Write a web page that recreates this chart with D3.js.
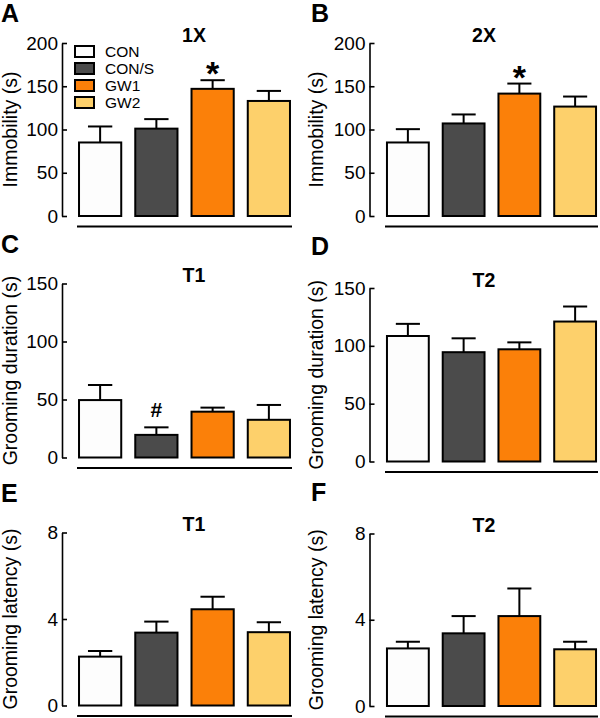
<!DOCTYPE html>
<html>
<head>
<meta charset="utf-8">
<script src="https://cdn.jsdelivr.net/npm/d3@7"></script>
<style>
  body { margin: 0; background: #fff; }
  svg text { font-family: "Liberation Sans", Arial, Helvetica, sans-serif; fill: #000; }
</style>
</head>
<body>
<div id="vis"></div>
<script>
// groups and colours
const groups = ["CON", "CON/S", "GW1", "GW2"];
const groupColors = ["#fdfdfd", "#4b4b4b", "#fb8009", "#fdd06b"];

// A: immobility 1X
const immob1X = [85, 101, 147, 133];
const immob1XSem = [18.5, 11, 10, 11.6];
// B: immobility 2X
const immob2X = [85, 107, 141.5, 126.5];
const immob2XSem = [15.4, 10.4, 11.6, 11.6];
// C: grooming duration T1
const groomDurT1 = [49.5, 19.5, 39.5, 32.5];
const groomDurT1Sem = [13, 6.5, 3.5, 12.8];
// D: grooming duration T2
const groomDurT2 = [108.5, 94.5, 97, 121];
const groomDurT2Sem = [10.5, 12, 6, 13];
// E: grooming latency T1
const groomLatT1 = [2.26, 3.37, 4.45, 3.39];
const groomLatT1Sem = [0.26, 0.51, 0.58, 0.46];
// F: grooming latency T2
const groomLatT2 = [2.67, 3.37, 4.17, 2.63];
const groomLatT2Sem = [0.31, 0.8, 1.28, 0.35];

const immobTicks = [0, 50, 100, 150, 200];
const durTicks = [0, 50, 100, 150];
const latTicks = [0, 4, 8];

const panels = [
  {letter: "A", title: "1X", ylab: "Immobility (s)", v: immob1X, e: immob1XSem, ticks: immobTicks, col: 0, top: 43, bottom: 216, letterY: 21.5, mark: {i: 2, t: "*"}, legend: true},
  {letter: "B", title: "2X", ylab: "Immobility (s)", v: immob2X, e: immob2XSem, ticks: immobTicks, col: 1, top: 43, bottom: 216, letterY: 21.5, mark: {i: 2, t: "*"}},
  {letter: "C", title: "T1", ylab: "Grooming duration (s)", v: groomDurT1, e: groomDurT1Sem, ticks: durTicks, col: 0, top: 283.5, bottom: 457.5, letterY: 253, mark: {i: 1, t: "#"}},
  {letter: "D", title: "T2", ylab: "Grooming duration (s)", v: groomDurT2, e: groomDurT2Sem, ticks: durTicks, col: 1, top: 288, bottom: 461.5, letterY: 255},
  {letter: "E", title: "T1", ylab: "Grooming latency (s)", v: groomLatT1, e: groomLatT1Sem, ticks: latTicks, col: 0, top: 532.5, bottom: 705.5, letterY: 501.5},
  {letter: "F", title: "T2", ylab: "Grooming latency (s)", v: groomLatT2, e: groomLatT2Sem, ticks: latTicks, col: 1, top: 533.5, bottom: 706, letterY: 501}
];

// column geometry
const cols = [
  {axisX: 62, range: [72, 297], titleX: 194, ylabX: 17, letterX: 1},
  {axisX: 369.5, range: [380, 603], titleX: 484, ylabX: 323, letterX: 311}
];

const svg = d3.select("#vis").append("svg").attr("width", 600).attr("height", 718);

panels.forEach(p => {
  const c = cols[p.col];
  const g = svg.append("g");
  const x = d3.scaleBand().domain(groups).range(c.range).paddingInner(0.214).paddingOuter(0.107);
  const y = d3.scaleLinear().domain([0, d3.max(p.ticks)]).range([p.bottom, p.top]);

  // error bars (upper only)
  const capW = x.bandwidth() * 0.55;
  const eb = g.append("g").attr("stroke", "#000").attr("stroke-width", 2);
  groups.forEach((k, i) => {
    const cx = x(k) + x.bandwidth() / 2;
    eb.append("line").attr("x1", cx).attr("x2", cx).attr("y1", y(p.v[i])).attr("y2", y(p.v[i] + p.e[i]));
    eb.append("line").attr("x1", cx - capW / 2).attr("x2", cx + capW / 2)
      .attr("y1", y(p.v[i] + p.e[i])).attr("y2", y(p.v[i] + p.e[i]));
  });

  g.selectAll("rect.bar").data(groups).enter().append("rect")
    .attr("class", "bar")
    .attr("x", d => x(d) + 1)
    .attr("width", x.bandwidth() - 2)
    .attr("y", (d, i) => y(p.v[i]))
    .attr("height", (d, i) => y(0) - y(p.v[i]))
    .attr("fill", (d, i) => groupColors[i])
    .attr("stroke", "#000")
    .attr("stroke-width", 2);

  // y axis, ticks pointing inward
  const ax = g.append("g").attr("transform", `translate(${c.axisX},0)`)
    .call(d3.axisLeft(y).tickValues(p.ticks).tickSize(-5).tickSizeOuter(0).tickPadding(4));
  ax.select(".domain").attr("stroke-width", 1.6);
  ax.selectAll(".tick line").attr("stroke-width", 1.6);
  ax.selectAll(".tick text").attr("font-size", 19).attr("font-family", "Liberation Sans, Arial, sans-serif");

  // x baseline
  g.append("line")
    .attr("x1", c.range[0] + 5).attr("x2", c.range[1] - 5)
    .attr("y1", p.bottom + 10.5).attr("y2", p.bottom + 10.5)
    .attr("stroke", "#000").attr("stroke-width", 1.8);

  g.append("text")
    .attr("transform", `translate(${c.ylabX},${(p.top + p.bottom) / 2}) rotate(-90)`)
    .attr("text-anchor", "middle")
    .attr("font-size", 19.5)
    .text(p.ylab);

  g.append("text")
    .attr("x", c.titleX).attr("y", p.top - 1.5)
    .attr("text-anchor", "middle")
    .attr("font-size", 19.5).attr("font-weight", "bold")
    .text(p.title);

  g.append("text")
    .attr("x", c.letterX).attr("y", p.letterY)
    .attr("font-size", 25).attr("font-weight", "bold")
    .text(p.letter);

  if (p.mark) {
    const i = p.mark.i;
    const cx = x(groups[i]) + x.bandwidth() / 2;
    const ty = y(p.v[i] + p.e[i]);
    if (p.mark.t === "*") {
      g.append("text").attr("x", cx).attr("y", ty + 5).attr("text-anchor", "middle")
        .attr("font-size", 34).attr("font-weight", "bold").text("*");
    } else {
      g.append("text").attr("x", cx).attr("y", ty - 10).attr("text-anchor", "middle")
        .attr("font-size", 21).attr("font-weight", "bold").text("#");
    }
  }

  if (p.legend) {
    const lg = g.append("g").attr("transform", "translate(74,45)");
    groups.forEach((k, i) => {
      lg.append("rect").attr("x", 1).attr("y", i * 17 + 1).attr("width", 19).attr("height", 11)
        .attr("fill", groupColors[i]).attr("stroke", "#000").attr("stroke-width", 2);
      lg.append("text").attr("x", 31).attr("y", i * 17 + 12)
        .attr("font-size", 15.5).text(k);
    });
  }
});
</script>
</body>
</html>
